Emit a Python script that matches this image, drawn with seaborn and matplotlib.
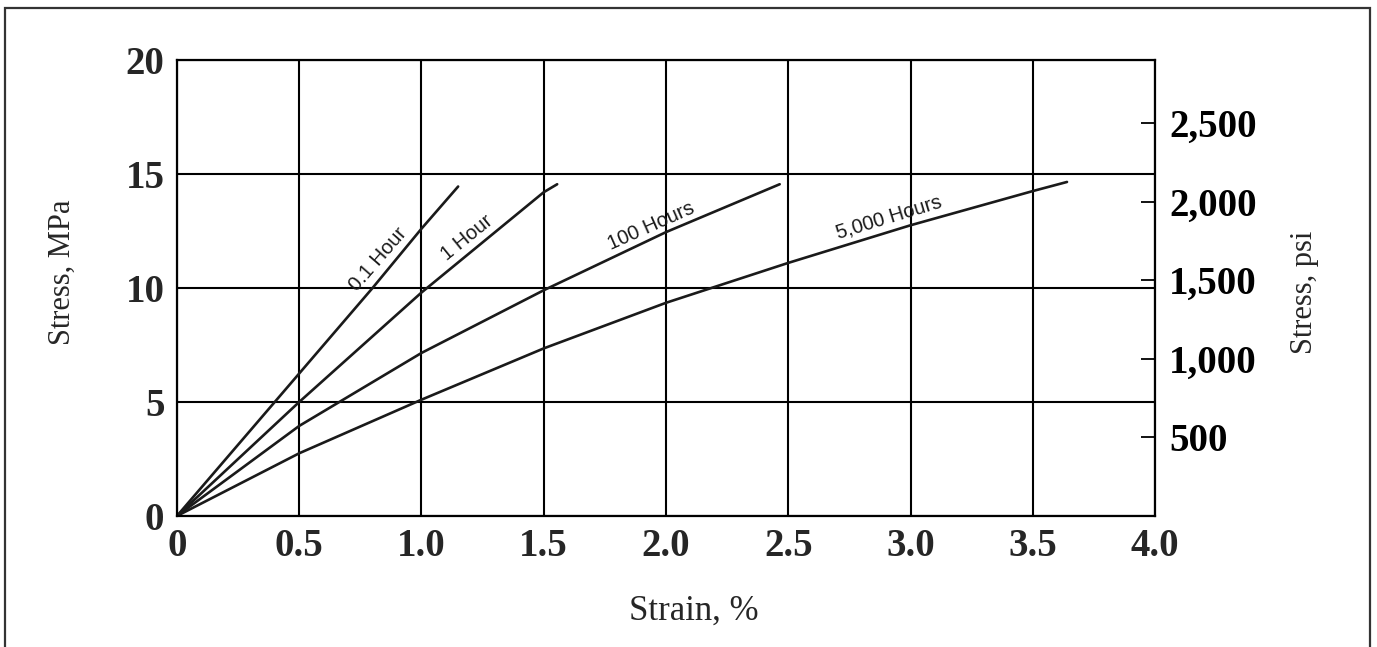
"""Isochronous stress-strain curves (creep), MPa on the left, psi on the right."""
import matplotlib.pyplot as plt
import pandas as pd
import seaborn as sns
from matplotlib.patches import Rectangle
from matplotlib.ticker import FuncFormatter, MultipleLocator

# values (strain in %, stress in MPa)
STRAIN_01H = [0.0, 0.40, 0.80, 1.00, 1.15]
STRESS_01H = [0.0, 5.0, 10.0, 12.6, 14.45]

STRAIN_1H = [0.0, 0.50, 1.00, 1.50, 1.555]
STRESS_1H = [0.0, 5.0, 9.8, 14.2, 14.55]

STRAIN_100H = [0.0, 0.50, 1.00, 1.50, 2.00, 2.465]
STRESS_100H = [0.0, 3.95, 7.15, 9.9, 12.45, 14.55]

STRAIN_5000H = [0.0, 0.50, 1.00, 1.50, 2.00, 2.50, 3.00, 3.50, 3.64]
STRESS_5000H = [0.0, 2.75, 5.1, 7.35, 9.35, 11.1, 12.75, 14.25, 14.65]

CURVE_NAMES = ["0.1 Hour", "1 Hour", "100 Hours", "5,000 Hours"]
X_TICKS = [0, 0.5, 1.0, 1.5, 2.0, 2.5, 3.0, 3.5, 4.0]
X_TICK_LABELS = ["0", "0.5", "1.0", "1.5", "2.0", "2.5", "3.0", "3.5", "4.0"]
PSI_TICKS = [500, 1000, 1500, 2000, 2500]

PSI_PER_MPA = 145.038

# label anchor (strain, stress) and on-screen angle for each curve
LABEL_SPOTS = {
    "0.1 Hour": (0.822, 11.25, 49),
    "1 Hour": (1.186, 12.2, 39),
    "100 Hours": (1.939, 12.7, 24),
    "5,000 Hours": (2.912, 13.1, 17),
}

SERIF = ["Liberation Serif", "DejaVu Serif"]
SANS = ["Liberation Sans", "DejaVu Sans"]


def build_frame() -> pd.DataFrame:
    parts = []
    for name, xs, ys in zip(
        CURVE_NAMES,
        [STRAIN_01H, STRAIN_1H, STRAIN_100H, STRAIN_5000H],
        [STRESS_01H, STRESS_1H, STRESS_100H, STRESS_5000H],
    ):
        parts.append(pd.DataFrame({"curve": name, "strain": xs, "stress": ys}))
    return pd.concat(parts, ignore_index=True)


def main() -> None:
    sns.set_theme(style="white")
    plt.rcParams["font.family"] = SERIF

    df = build_frame()

    fig = plt.figure(figsize=(13.77, 6.47), dpi=100)
    ax = fig.add_axes([0.1285, 0.2025, 0.7103, 0.7048])

    sns.lineplot(
        data=df, x="strain", y="stress", hue="curve",
        palette={n: "#1a1a1a" for n in CURVE_NAMES},
        estimator=None, sort=False, linewidth=1.9, legend=False, ax=ax,
    )

    ax.set_xlim(0, 4.0)
    ax.set_ylim(0, 20)
    ax.set_xticks(X_TICKS)
    ax.set_xticklabels(X_TICK_LABELS)
    ax.yaxis.set_major_locator(MultipleLocator(5))
    ax.grid(True, color="black", linewidth=1.5)
    ax.set_axisbelow(True)
    for sp in ax.spines.values():
        sp.set_color("black")
        sp.set_linewidth(1.6)
    ax.tick_params(axis="both", length=0, pad=9, labelsize=28)
    for lab in ax.get_xticklabels() + ax.get_yticklabels():
        lab.set_fontweight("bold")

    ax.set_xlabel("Strain, %", fontsize=25)
    ax.set_ylabel("Stress, MPa", fontsize=22)
    ax.xaxis.set_label_coords(0.528, -0.172)
    ax.yaxis.set_label_coords(-0.102, 0.535)

    # psi scale on the right
    sec = ax.secondary_yaxis(
        "right",
        functions=(lambda v: v * PSI_PER_MPA, lambda v: v / PSI_PER_MPA),
    )
    sec.set_yticks(PSI_TICKS)
    sec.yaxis.set_major_formatter(FuncFormatter(lambda v, _: f"{int(v):,}"))
    sec.tick_params(axis="y", direction="in", length=10, width=1.3,
                    pad=10, labelsize=28, colors="black")
    for lab in sec.get_yticklabels():
        lab.set_fontweight("bold")
    sec.spines["right"].set_visible(False)
    ax.text(1.153, 0.491, "Stress, psi", transform=ax.transAxes,
            rotation=90, ha="center", va="center", fontsize=22)

    # curve labels
    for name in CURVE_NAMES:
        x, y, ang = LABEL_SPOTS[name]
        ax.text(x, y, name, rotation=ang, rotation_mode="anchor",
                ha="center", va="center", fontsize=14.5, family=SANS,
                color="#1a1a1a")

    # outer frame round the whole figure
    fig.patches.append(Rectangle(
        (5 / 1377, -0.05), 1365 / 1377, 1.05 - 8 / 647,
        transform=fig.transFigure, fill=False,
        edgecolor="#333333", linewidth=1.6,
    ))

    fig.savefig("out.png", dpi=100)
    plt.close(fig)


if __name__ == "__main__":
    main()
